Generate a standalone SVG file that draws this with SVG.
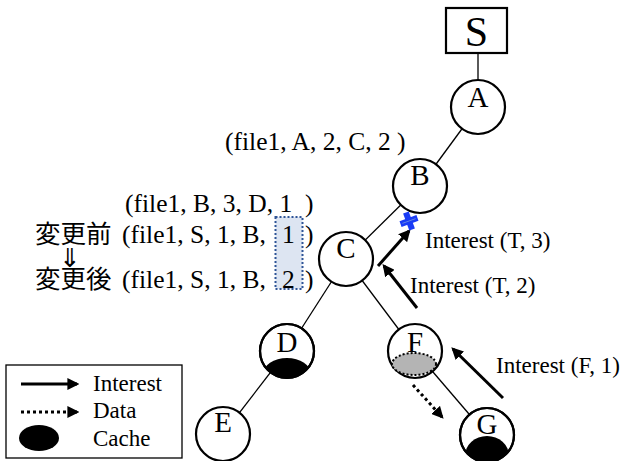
<svg xmlns="http://www.w3.org/2000/svg" width="624" height="461" viewBox="0 0 624 461">
<style>
.node{fill:#fff;stroke:#000;stroke-width:2.2}
.lbl{font-family:"Liberation Serif","Noto Sans CJK JP",serif;fill:#000}
.nl{font-family:"Liberation Serif",serif;font-size:29px;text-anchor:middle}
.edge{stroke:#000;stroke-width:1.3;fill:none}
.arr{stroke:#000;stroke-width:3;fill:none;marker-end:url(#ah)}
.darr{stroke:#000;stroke-width:3;fill:none;stroke-dasharray:3 3;marker-end:url(#ah)}
.t22{font-size:23px}
.t24{font-size:25.5px}
</style>
<defs>
<marker id="ah" viewBox="0 0 10 10" refX="8" refY="5" markerWidth="4" markerHeight="4" orient="auto" markerUnits="strokeWidth">
<path d="M0,0 L10,5 L0,10 z" fill="#000"/>
</marker>
<clipPath id="cD"><circle cx="287" cy="351" r="27"/></clipPath>
<clipPath id="cG"><circle cx="487" cy="435" r="27"/></clipPath>
</defs>
<g id="connectors">
<line class="edge" x1="478" y1="53" x2="478" y2="107"/>
<line class="edge" x1="478" y1="107" x2="420" y2="186"/>
<line class="edge" x1="420" y1="186" x2="346" y2="259"/>
<line class="edge" x1="346" y1="259" x2="287" y2="351"/>
<line class="edge" x1="346" y1="259" x2="415" y2="351"/>
<line class="edge" x1="287" y1="351" x2="223" y2="434"/>
<line class="edge" x1="415" y1="351" x2="487" y2="435"/>
<line class="arr" x1="378" y1="266" x2="409" y2="231"/>
<line class="arr" x1="417" y1="308" x2="384" y2="266"/>
<line class="arr" x1="503" y1="398" x2="453" y2="349"/>
<line class="darr" x1="413" y1="385" x2="442" y2="417"/>
</g>
<g id="S"><rect x="446" y="8" width="61" height="45" fill="#fff" stroke="#000" stroke-width="2.2"/><text class="lbl" x="476.5" y="46" font-size="42" text-anchor="middle">S</text></g>
<g id="A"><circle class="node" cx="478" cy="107" r="27"/><text class="lbl nl" x="478" y="107">A</text></g>
<g id="B"><circle class="node" cx="420" cy="186" r="27"/><text class="lbl nl" x="420" y="185">B</text></g>
<g id="C"><circle class="node" cx="346" cy="259" r="27"/><text class="lbl nl" x="346" y="258">C</text></g>
<g id="D"><circle class="node" cx="287" cy="351" r="27"/><ellipse cx="287" cy="374" rx="24" ry="16" fill="#000" clip-path="url(#cD)"/><circle cx="287" cy="351" r="27" fill="none" stroke="#000" stroke-width="2.2"/><text class="lbl nl" x="287" y="352">D</text></g>
<g id="E"><circle class="node" cx="223" cy="434" r="27"/><text class="lbl nl" x="223" y="432">E</text></g>
<g id="F"><circle class="node" cx="415" cy="351" r="27"/><ellipse cx="414" cy="364" rx="22" ry="11" fill="#b4b4b4" stroke="#000" stroke-width="2" stroke-dasharray="2 2"/><text class="lbl nl" x="415" y="352">F</text></g>
<g id="G"><circle class="node" cx="487" cy="435" r="27"/><ellipse cx="487" cy="456" rx="22" ry="20" fill="#000" clip-path="url(#cG)"/><circle cx="487" cy="435" r="27" fill="none" stroke="#000" stroke-width="2.2"/><text class="lbl nl" x="487" y="434">G</text></g>
<g id="cross" transform="translate(409,221) rotate(-20)">
<line x1="-9" y1="0" x2="9" y2="0" stroke="#1a3cf5" stroke-width="6"/>
<line x1="0" y1="-9" x2="0" y2="9" stroke="#1a3cf5" stroke-width="6"/>
<line x1="-7" y1="0" x2="7" y2="0" stroke="#6f8fe0" stroke-width="1"/>
</g>
<g id="labels">
<text class="lbl t24" x="225" y="150">(file1, A, 2, C, 2 )</text>
<text class="lbl t22" x="425" y="248">Interest (T, 3)</text>
<text class="lbl t22" x="410" y="293">Interest (T, 2)</text>
<text class="lbl t22" x="496" y="373">Interest (F, 1)</text>
<rect x="275.5" y="217" width="27" height="72" fill="#dde5f2" stroke="#2f5597" stroke-width="2" stroke-dasharray="2 2"/>
<text class="lbl t24" x="125" y="212">(file1, B, 3, D, 1</text>
<text class="lbl t24" x="305" y="212">)</text>
<text class="lbl t24" x="35" y="243">変更前</text>
<text class="lbl t24" x="122" y="243">(file1, S, 1, B,</text>
<text class="lbl t24" x="282" y="243">1</text>
<text class="lbl t24" x="305" y="243">)</text>
<text x="70" y="267" font-family="DejaVu Sans,sans-serif" font-size="26" text-anchor="middle">⇓</text>
<text class="lbl t24" x="35" y="288">変更後</text>
<text class="lbl t24" x="122" y="288">(file1, S, 1, B,</text>
<text class="lbl t24" x="282" y="288">2</text>
<text class="lbl t24" x="305" y="288">)</text>
</g>
<g id="legend">
<rect x="6" y="365" width="176" height="93" fill="#fff" stroke="#000" stroke-width="1.3"/>
<line class="arr" x1="21" y1="384" x2="77" y2="384"/>
<line class="darr" x1="21" y1="412" x2="77" y2="412"/>
<ellipse cx="39" cy="438" rx="20" ry="13" fill="#000"/>
<text class="lbl t22" x="93" y="391">Interest</text>
<text class="lbl t22" x="93" y="418">Data</text>
<text class="lbl t22" x="93" y="446">Cache</text>
</g>
</svg>
